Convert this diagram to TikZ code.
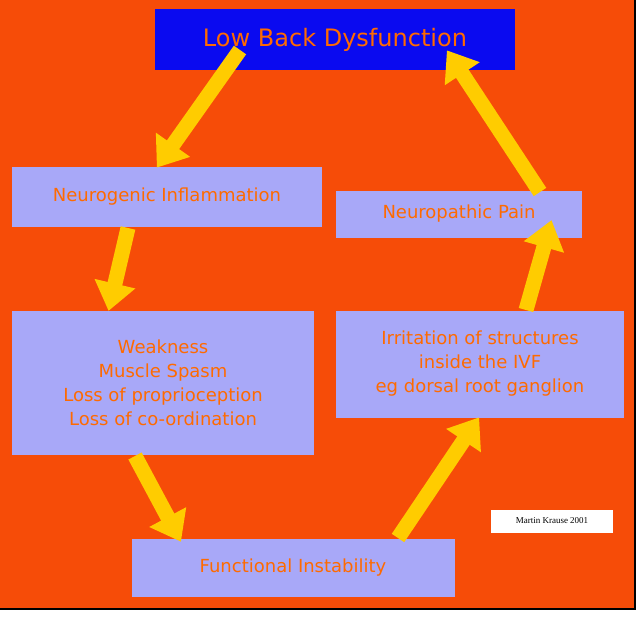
\documentclass[tikz,border=0pt]{standalone}
\usepackage{fontspec}
\setmainfont{DejaVu Sans}
\newfontfamily\creditfont{Liberation Serif}
\usetikzlibrary{arrows.meta,positioning}
\definecolor{bgorange}{HTML}{F64C08}
\definecolor{boxblue}{HTML}{A8A8F8}
\definecolor{titleblue}{HTML}{0A0AF0}
\definecolor{txtorange}{HTML}{FF6A00}
\definecolor{arrowyellow}{HTML}{FFCC00}
\begin{document}
\begin{tikzpicture}
  [
    x=1pt, y=-1pt,
    Box/.style={fill=boxblue, text=txtorange, font=\fontsize{18}{24}\selectfont, align=center, inner sep=0pt},
    Flow/.style={draw=arrowyellow, line width=15pt, -{Triangle[length=28pt,width=40pt]}, shorten >=-2pt}
  ]
  % Background
  \useasboundingbox (0,0) rectangle (643,618);
  \fill[white] (0,0) rectangle (643,618);
  \fill[bgorange] (0,0) rectangle (635,609);
  \draw[black, line width=1.5pt] (635,0) -- (635,609) -- (0,609);
  % Boxes
  \node[Box, fill=titleblue, minimum width=360pt, minimum height=61pt, font=\fontsize{24}{28}\selectfont] (low) at (335,40) {Low Back Dysfunction};
  \node[Box, minimum width=310pt, minimum height=60pt] (neuro) at (167,197) {Neurogenic Inflammation};
  \node[Box, minimum width=246pt, minimum height=47pt] (pain) at (459,214) {Neuropathic Pain};
  \node[Box, minimum width=302pt, minimum height=144pt] (weak) at (163,383)
    {Weakness\\Muscle Spasm\\Loss of proprioception\\Loss of co-ordination};
  \node[Box, minimum width=288pt, minimum height=107pt] (irr) at (480,364)
    {Irritation of structures\\inside the IVF\\eg dorsal root ganglion};
  \node[Box, minimum width=323pt, minimum height=58pt] (func) at (293,568) {Functional Instability};
  \node[fill=white, minimum width=122pt, minimum height=23pt, inner sep=0pt, font=\creditfont\fontsize{9}{10}\selectfont] (credit) at (552,521) {Martin Krause 2001};
  % Arrows
  \coordinate (a1) at (240,50);  \coordinate (b1) at (158,166);
  \coordinate (a2) at (128,228); \coordinate (b2) at (109,309);
  \coordinate (a3) at (135,456); \coordinate (b3) at (180,540);
  \coordinate (a4) at (398,538); \coordinate (b4) at (478,419);
  \coordinate (a5) at (526,310); \coordinate (b5) at (551,222);
  \coordinate (a6) at (540,192); \coordinate (b6) at (448,52);
  \foreach \s/\e in {a1/b1, a2/b2, a3/b3, a4/b4, a5/b5, a6/b6}
    \draw[Flow] (\s) -- (\e);
\end{tikzpicture}
\end{document}
